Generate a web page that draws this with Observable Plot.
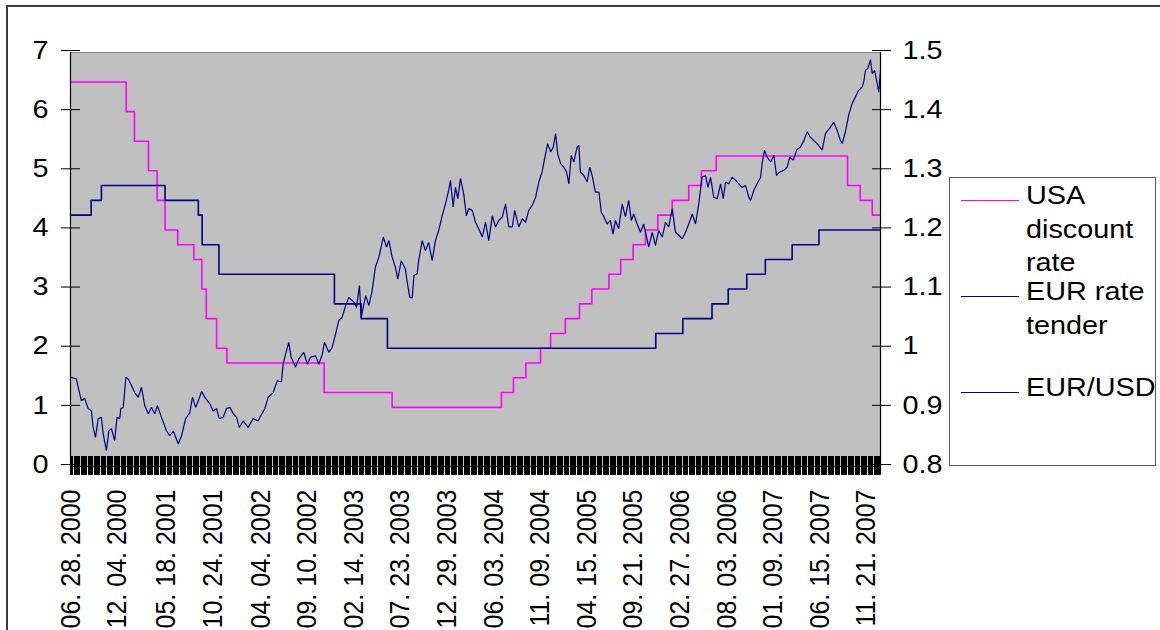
<!DOCTYPE html>
<html>
<head>
<meta charset="utf-8">
<script src="https://cdn.jsdelivr.net/npm/d3@7"></script>
<script src="https://cdn.jsdelivr.net/npm/@observablehq/plot@0.6"></script>
<style>
  html, body { margin: 0; padding: 0; background: #fff; overflow: hidden; }
  #wrap { position: relative; width: 1160px; height: 630px; overflow: hidden; font-family: "Liberation Sans", Arial, sans-serif; }
  #border { position: absolute; left: 6px; top: 5px; width: 1300px; height: 800px; border: 2px solid #3c3c3c; }
  #chart { position: absolute; left: 0; top: 0; }
  #legend { position: absolute; left: 0; top: 0; }
</style>
</head>
<body>
<div id="wrap">
  <div id="border"></div>
  <div id="chart"></div>
  <svg id="legend" width="1160" height="630"></svg>
</div>
<script>
// ---- data -------------------------------------------------------------
const firstDay = "2000-06-28";
const lastDay = "2008-01-08";

// US policy rate: date of each change and the new level (%)
const usDates = ["2000-06-28","2001-01-03","2001-01-31","2001-03-20","2001-04-18","2001-05-15","2001-06-27",
  "2001-08-21","2001-09-17","2001-10-02","2001-11-06","2001-12-11","2002-11-06","2003-06-25","2004-06-30",
  "2004-08-10","2004-09-21","2004-11-10","2004-12-14","2005-02-02","2005-03-22","2005-05-03","2005-06-30",
  "2005-08-09","2005-09-20","2005-11-01","2005-12-13","2006-01-31","2006-03-28","2006-05-10","2006-06-29",
  "2007-09-18","2007-10-31","2007-12-11"];
const usRates = [6.5,6.0,5.5,5.0,4.5,4.0,3.75,3.5,3.0,2.5,2.0,1.75,1.25,1.0,1.25,1.5,1.75,2.0,2.25,2.5,2.75,
  3.0,3.25,3.5,3.75,4.0,4.25,4.5,4.75,5.0,5.25,4.75,4.5,4.25];

// ECB main refinancing (tender) rate: date of each change and the new level (%)
const ecbDates = ["2000-06-28","2000-09-06","2000-10-11","2001-05-15","2001-09-05","2001-09-18","2001-11-14",
  "2002-12-11","2003-03-12","2003-06-09","2005-12-06","2006-03-08","2006-06-15","2006-08-09","2006-10-11",
  "2006-12-13","2007-03-14","2007-06-13"];
const ecbRates = [4.25,4.5,4.75,4.5,4.25,3.75,3.25,2.75,2.5,2.0,2.25,2.5,2.75,3.0,3.25,3.5,3.75,4.0];

// EUR/USD exchange rate (right axis)
const eurusd = [
  ["2000-06-28",0.951],["2000-07-18",0.948],["2000-07-27",0.928],["2000-08-04",0.911],["2000-08-15",0.915],
  ["2000-08-27",0.898],["2000-09-07",0.894],["2000-09-13",0.866],["2000-09-21",0.849],["2000-09-30",0.881],
  ["2000-10-11",0.883],["2000-10-17",0.855],["2000-10-28",0.827],["2000-11-05",0.860],["2000-11-14",0.864],
  ["2000-11-25",0.844],["2000-12-03",0.883],["2000-12-12",0.881],["2000-12-16",0.898],["2000-12-24",0.900],
  ["2001-01-02",0.951],["2001-01-10",0.948],["2001-01-21",0.937],["2001-02-01",0.925],["2001-02-13",0.917],
  ["2001-02-24",0.934],["2001-03-07",0.903],["2001-03-19",0.889],["2001-03-30",0.900],["2001-04-10",0.889],
  ["2001-04-19",0.903],["2001-05-03",0.883],["2001-05-20",0.860],["2001-05-31",0.852],["2001-06-12",0.860],
  ["2001-06-29",0.838],["2001-07-10",0.852],["2001-07-24",0.881],["2001-08-07",0.891],["2001-08-16",0.917],
  ["2001-08-27",0.900],["2001-09-05",0.911],["2001-09-16",0.927],["2001-09-27",0.917],["2001-10-14",0.906],
  ["2001-10-25",0.894],["2001-11-06",0.898],["2001-11-15",0.881],["2001-11-28",0.883],["2001-12-10",0.898],
  ["2001-12-21",0.900],["2002-01-02",0.889],["2002-01-13",0.883],["2002-01-22",0.866],["2002-02-04",0.877],
  ["2002-02-21",0.866],["2002-03-10",0.881],["2002-03-27",0.877],["2002-04-02",0.883],["2002-04-19",0.898],
  ["2002-04-30",0.917],["2002-05-17",0.925],["2002-05-31",0.945],["2002-06-14",0.943],["2002-06-20",0.973],
  ["2002-06-28",0.990],["2002-07-09",1.010],["2002-07-17",0.985],["2002-08-01",0.968],["2002-08-12",0.982],
  ["2002-08-29",0.993],["2002-09-10",0.973],["2002-09-21",0.985],["2002-10-08",0.987],["2002-10-19",0.973],
  ["2002-10-31",0.990],["2002-11-07",1.010],["2002-11-22",0.993],["2002-12-03",1.001],["2002-12-15",1.024],
  ["2002-12-26",1.047],["2003-01-06",1.052],["2003-01-18",1.072],["2003-01-29",1.086],["2003-02-15",1.078],
  ["2003-02-24",1.069],["2003-03-06",1.106],["2003-03-12",1.052],["2003-03-27",1.089],["2003-04-07",1.072],
  ["2003-04-18",1.097],["2003-04-29",1.137],["2003-05-11",1.154],["2003-05-26",1.188],["2003-06-06",1.171],
  ["2003-06-14",1.182],["2003-06-25",1.154],["2003-07-06",1.137],["2003-07-14",1.117],["2003-07-26",1.148],
  ["2003-08-09",1.134],["2003-08-15",1.112],["2003-08-24",1.086],["2003-09-01",1.085],["2003-09-07",1.123],
  ["2003-09-18",1.126],["2003-09-23",1.148],["2003-10-05",1.182],["2003-10-16",1.165],["2003-10-27",1.179],
  ["2003-11-08",1.148],["2003-11-19",1.182],["2003-11-30",1.199],["2003-12-12",1.224],["2003-12-23",1.244],
  ["2004-01-03",1.267],["2004-01-09",1.284],["2004-01-18",1.239],["2004-01-26",1.272],["2004-02-03",1.253],
  ["2004-02-12",1.287],["2004-02-23",1.261],["2004-03-03",1.224],["2004-03-11",1.236],["2004-03-23",1.233],
  ["2004-04-03",1.213],["2004-04-14",1.202],["2004-04-26",1.188],["2004-05-07",1.213],["2004-05-18",1.182],
  ["2004-05-30",1.224],["2004-06-10",1.205],["2004-06-21",1.216],["2004-07-03",1.222],["2004-07-14",1.244],
  ["2004-07-25",1.205],["2004-08-06",1.205],["2004-08-14",1.233],["2004-08-28",1.205],["2004-09-09",1.219],
  ["2004-09-20",1.213],["2004-10-01",1.233],["2004-10-12",1.241],["2004-10-24",1.255],["2004-11-04",1.281],
  ["2004-11-15",1.298],["2004-11-27",1.329],["2004-12-04",1.346],["2004-12-14",1.332],["2004-12-23",1.340],
  ["2004-12-31",1.363],["2005-01-07",1.329],["2005-01-17",1.312],["2005-01-28",1.306],["2005-02-06",1.298],
  ["2005-02-14",1.278],["2005-02-22",1.326],["2005-03-03",1.315],["2005-03-14",1.340],["2005-03-20",1.343],
  ["2005-03-25",1.298],["2005-04-06",1.292],["2005-04-17",1.281],["2005-04-26",1.306],["2005-05-04",1.292],
  ["2005-05-15",1.264],["2005-05-27",1.264],["2005-06-04",1.230],["2005-06-13",1.222],["2005-06-24",1.210],
  ["2005-07-05",1.216],["2005-07-14",1.193],["2005-07-22",1.216],["2005-08-02",1.202],["2005-08-14",1.244],
  ["2005-08-25",1.222],["2005-09-05",1.250],["2005-09-14",1.216],["2005-09-22",1.227],["2005-10-04",1.210],
  ["2005-10-15",1.196],["2005-10-26",1.210],["2005-11-05",1.188],["2005-11-12",1.171],["2005-11-24",1.196],
  ["2005-12-05",1.174],["2005-12-16",1.199],["2005-12-28",1.188],["2006-01-08",1.213],["2006-01-19",1.205],
  ["2006-01-31",1.236],["2006-02-11",1.196],["2006-02-22",1.191],["2006-03-06",1.185],["2006-03-17",1.196],
  ["2006-03-28",1.210],["2006-04-09",1.227],["2006-04-20",1.210],["2006-05-01",1.244],["2006-05-12",1.289],
  ["2006-05-24",1.292],["2006-06-01",1.272],["2006-06-10",1.289],["2006-06-21",1.255],["2006-07-03",1.253],
  ["2006-07-14",1.278],["2006-07-23",1.253],["2006-07-31",1.281],["2006-08-11",1.278],["2006-08-22",1.289],
  ["2006-09-03",1.284],["2006-09-14",1.278],["2006-09-25",1.272],["2006-10-07",1.275],["2006-10-18",1.255],
  ["2006-10-24",1.250],["2006-11-04",1.267],["2006-11-15",1.278],["2006-11-27",1.289],["2006-12-02",1.312],
  ["2006-12-10",1.335],["2006-12-19",1.323],["2006-12-31",1.315],["2007-01-11",1.326],["2007-01-20",1.292],
  ["2007-01-31",1.298],["2007-02-14",1.301],["2007-02-25",1.306],["2007-03-06",1.323],["2007-03-18",1.318],
  ["2007-03-29",1.335],["2007-04-11",1.340],["2007-04-23",1.351],["2007-05-04",1.366],["2007-05-15",1.357],
  ["2007-05-27",1.351],["2007-06-07",1.346],["2007-06-24",1.335],["2007-07-05",1.363],["2007-07-22",1.374],
  ["2007-08-02",1.382],["2007-08-14",1.368],["2007-08-25",1.351],["2007-08-31",1.346],["2007-09-11",1.366],
  ["2007-09-22",1.394],["2007-10-04",1.414],["2007-10-15",1.425],["2007-10-26",1.436],["2007-11-07",1.442],
  ["2007-11-12",1.450],["2007-11-18",1.470],["2007-11-26",1.473],["2007-12-05",1.488],["2007-12-11",1.464],
  ["2007-12-19",1.470],["2007-12-28",1.447],["2008-01-02",1.433],["2008-01-08",1.470]
];

// axis tick values and labels
const xLabelDates = ["2000-06-28","2000-12-04","2001-05-18","2001-10-24","2002-04-04","2002-09-10","2003-02-14",
  "2003-07-23","2003-12-29","2004-06-03","2004-11-09","2005-04-15","2005-09-21","2006-02-27","2006-08-03",
  "2007-01-09","2007-06-15","2007-11-21"];
const leftTicks = [0, 1, 2, 3, 4, 5, 6, 7];
const rightTicks = [0.8, 0.9, 1.0, 1.1, 1.2, 1.3, 1.4, 1.5];
const rightLabels = ["0.8", "0.9", "1", "1.1", "1.2", "1.3", "1.4", "1.5"];

// legend entries
const legendNames = [["USA", "discount", "rate"], ["EUR rate", "tender"], ["EUR/USD"]];
const legendColors = ["#ff00ff", "#000080", "#000080"];

// ---- build ------------------------------------------------------------
const parse = d3.utcParse("%Y-%m-%d");
const start = parse(firstDay), end = parse(lastDay);

function steps(dates, rates) {
  const rows = dates.map((d, i) => ({date: parse(d), rate: rates[i]}));
  rows.push({date: end, rate: rates[rates.length - 1]});
  return rows;
}
const usRows = steps(usDates, usRates);
const ecbRows = steps(ecbDates, ecbRates);
const fxRows = eurusd.map(([d, v]) => ({date: parse(d), value: v}));

// the right axis (0.8–1.5) shares the left axis (0–7) scale
const toLeft = v => (v - 0.8) * 10;

// dense category tick marks along the time axis
const catTicks = d3.utcDay.range(start, d3.utcDay.offset(end, 1)).filter((d, i) => i % 4 === 0);

const FONT = 25.5;
const chart = Plot.plot({
  width: 1160,
  height: 630,
  marginLeft: 70,
  marginRight: 280,
  marginTop: 52,
  marginBottom: 164,
  style: {background: "none", fontFamily: "'Liberation Sans', Arial, sans-serif", fontSize: FONT + "px", color: "#000"},
  x: {type: "utc", domain: [start, end], label: null},
  y: {domain: [0, 7], label: null},
  marks: [
    Plot.frame({fill: "#c0c0c0", stroke: null}),
    Plot.ruleY([7], {stroke: "#808080", strokeWidth: 1}),
    Plot.line(usRows, {x: "date", y: "rate", curve: "step-after", stroke: "#ff00ff", strokeWidth: 1.6}),
    Plot.line(ecbRows, {x: "date", y: "rate", curve: "step-after", stroke: "#000080", strokeWidth: 1.6}),
    Plot.line(fxRows, {x: "date", y: d => toLeft(d.value), stroke: "#000080", strokeWidth: 1.2, strokeLinejoin: "miter"}),
    Plot.ruleX(catTicks, {y1: -0.15, y2: 0.17, stroke: "#000", strokeWidth: 1, shapeRendering: "crispEdges"}),
    Plot.ruleX([start], {y1: -0.15, y2: 7, stroke: "#000", strokeWidth: 1.2}),
    Plot.ruleX([end], {y1: -0.15, y2: 7, stroke: "#000", strokeWidth: 1.2}),
    Plot.ruleY([0], {stroke: "#000", strokeWidth: 1.2}),
    Plot.axisY(leftTicks, {anchor: "left", tickSize: 19, dx: 10, tickPadding: 13, dy: -2,
      tickFormat: d => String(d), label: null, stroke: "#000", fill: "#000", fontSize: FONT}),
    Plot.axisY(rightTicks.map(toLeft), {anchor: "right", tickSize: 19, dx: -9, tickPadding: 12, dy: -2,
      tickFormat: (d, i) => rightLabels[i], label: null, stroke: "#000", fill: "#000", fontSize: FONT}),
    Plot.axisX(xLabelDates.map(parse), {anchor: "bottom", tickSize: 0, tickPadding: 23, tickRotate: -90,
      tickFormat: d3.utcFormat("%m. %d. %Y"), label: null, fill: "#000", fontSize: FONT - 0.5})
  ]
});
document.getElementById("chart").appendChild(chart);

// text in this chart is set slightly wide: stretch each label horizontally about its anchor
const STRETCH = 1.13;
function widen(t) {
  const tr = t.getAttribute("transform");
  if (tr && /translate/.test(tr)) {
    t.setAttribute("transform", tr + (/rotate\(\s*-?90/.test(tr) ? ` scale(1,${STRETCH})` : ` scale(${STRETCH},1)`));
  } else {
    const x = +t.getAttribute("x") || 0, y = +t.getAttribute("y") || 0;
    t.setAttribute("transform", `translate(${x},${y}) scale(${STRETCH},1) translate(${-x},${-y})`);
  }
}
chart.querySelectorAll("text").forEach(widen);

// ---- legend -----------------------------------------------------------
const lg = d3.select("#legend");
lg.append("rect").attr("x", 949.5).attr("y", 177.5).attr("width", 206).attr("height", 288)
  .attr("fill", "#fff").attr("stroke", "#5a5a5a").attr("stroke-width", 1);
const entryTop = [200, 296, 392];   // swatch line of each entry
const lineGap = 33.5;               // baseline spacing inside an entry
legendNames.forEach((lines, i) => {
  const y = entryTop[i];
  lg.append("line").attr("x1", 961).attr("x2", 1019).attr("y1", y + 0.5).attr("y2", y + 0.5)
    .attr("stroke", legendColors[i]).attr("stroke-width", 1.2);
  lines.forEach((s, j) => {
    const bx = 1026, by = y + 4.5 + j * lineGap;
    lg.append("text").attr("x", bx).attr("y", by)
      .attr("transform", `translate(${bx},${by}) scale(${STRETCH},1) translate(${-bx},${-by})`)
      .attr("font-family", "'Liberation Sans', Arial, sans-serif").attr("font-size", FONT)
      .attr("fill", "#000").text(s);
  });
});
</script>
</body>
</html>
